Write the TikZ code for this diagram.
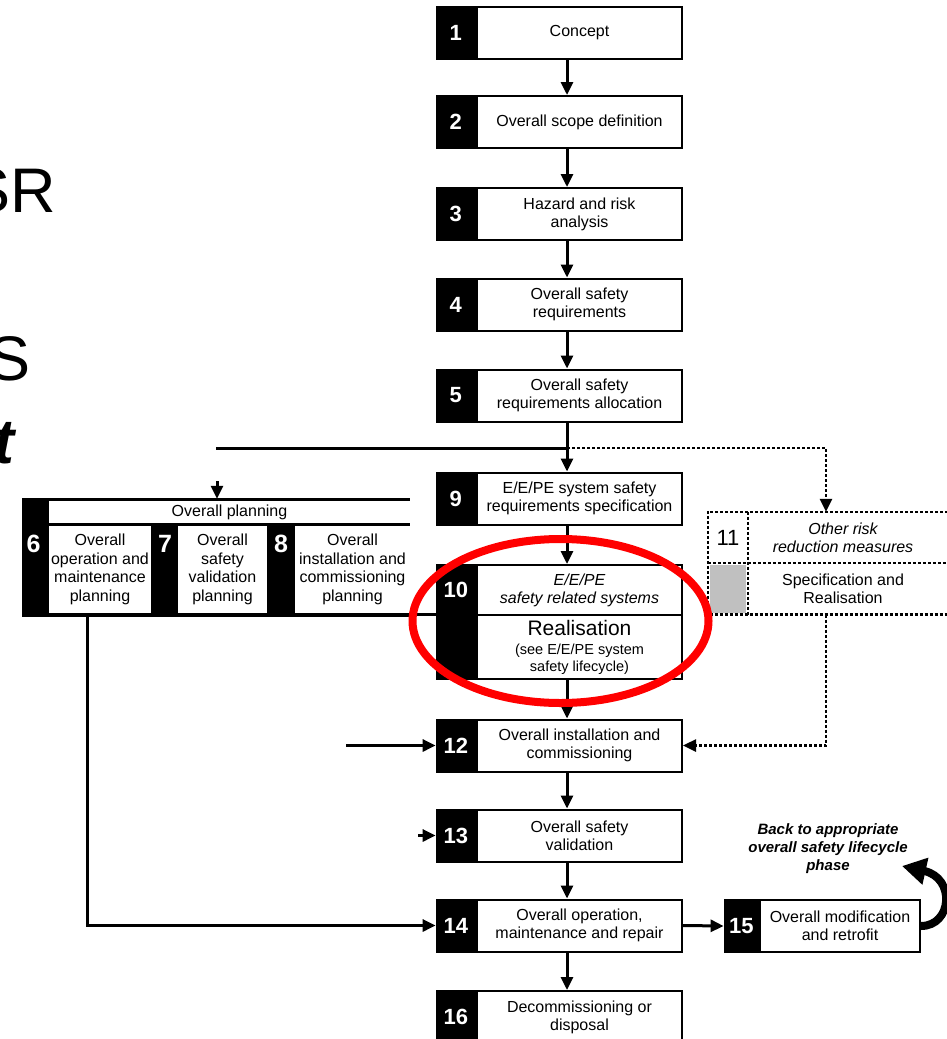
\documentclass[tikz,border=0pt]{standalone}
\usepackage{fontspec}
\setmainfont{Liberation Sans}
\usetikzlibrary{arrows.meta,positioning}
\definecolor{ringred}{RGB}{255,0,0}
\definecolor{shade}{RGB}{192,192,192}

\begin{document}
\begin{tikzpicture}[x=1pt, y=-1pt,
    stepbox/.style={draw, line width=2pt, fill=white, minimum width=205pt, minimum height=52pt, inner sep=1pt, align=center, font=\fontsize{16}{18}\selectfont},
    numbox/.style={fill=black, text=white, minimum width=40pt, minimum height=54pt, inner sep=0pt, font=\fontsize{22}{22}\selectfont\bfseries},
    planbox/.style={fill=white, inner sep=0pt, align=center, font=\fontsize{16}{18.7}\selectfont},
    plannum/.style={text=white, inner sep=0pt, font=\fontsize{25}{25}\selectfont\bfseries},
    otherbox/.style={inner sep=0pt, align=center, minimum width=190pt, minimum height=51pt, font=\fontsize{16}{18}\selectfont},
    flow/.style={line width=3pt, -{Triangle[length=13pt,width=12pt]}},
    dotline/.style={line width=2.5pt, dash pattern=on 3pt off 2pt},
    dotflow/.style={dotline, -{Triangle[length=13pt,width=12pt]}},
    slide/.style={inner sep=0pt, font=\fontsize{63}{63}\selectfont}]
  \useasboundingbox (0,0) rectangle (947,1039);

  % slide text cut off at the left edge
  \node[slide, anchor=base east] (srtxt) at (56,212) {SR};
  \node[slide, anchor=base east] (stxt) at (31,380) {S};
  \node[slide, anchor=base east, font=\fontsize{63}{63}\selectfont\bfseries\itshape] (ttxt) at (15,463) {t};

  % main column
  \coordinate (spine) at (567,0);
  \node[stepbox] (s1) at (579.5,33) {Concept};
  \node[numbox, left=0pt of s1] (n1) {1};
  \node[stepbox] (s2) at (579.5,122) {Overall scope definition};
  \node[numbox, left=0pt of s2] (n2) {2};
  \node[stepbox] (s3) at (579.5,214) {Hazard and risk\\analysis};
  \node[numbox, left=0pt of s3] (n3) {3};
  \node[stepbox] (s4) at (579.5,304.5) {Overall safety\\requirements};
  \node[numbox, left=0pt of s4] (n4) {4};
  \node[stepbox] (s5) at (579.5,395.5) {Overall safety\\requirements allocation};
  \node[numbox, left=0pt of s5] (n5) {5};
  \node[stepbox] (s9) at (579.5,498.5) {E/E/PE system safety\\requirements specification};
  \node[numbox, left=0pt of s9] (n9) {9};
  \node[stepbox, minimum height=50pt, font=\fontsize{16}{18}\selectfont\itshape] (s10) at (579.5,590) {E/E/PE\\safety related systems};
  \node[numbox, minimum height=52pt, left=0pt of s10] (n10) {10};
  \node[stepbox, minimum height=64pt, font=\fontsize{14.5}{17}\selectfont] (s10r) at (579.5,647) {{\fontsize{21}{21}\selectfont Realisation}\\[2pt](see E/E/PE system\\safety lifecycle)};
  \node[numbox, minimum height=66pt, left=0pt of s10r] (n10r) {};
  \node[stepbox] (s12) at (579.5,745.5) {Overall installation and\\commissioning};
  \node[numbox, left=0pt of s12] (n12) {12};
  \node[stepbox] (s13) at (579.5,835.5) {Overall safety\\validation};
  \node[numbox, left=0pt of s13] (n13) {13};
  \node[stepbox] (s14) at (579.5,925.5) {Overall operation,\\maintenance and repair};
  \node[numbox, left=0pt of s14] (n14) {14};
  \node[stepbox] (s16) at (579.5,1017) {Decommissioning or\\disposal};
  \node[numbox, left=0pt of s16] (n16) {16};
  \node[stepbox, minimum width=160pt] (s15) at (840,926) {Overall modification\\and retrofit};
  \node[numbox, minimum width=35pt, left=0pt of s15] (n15) {15};

  % overall planning
  \fill (22,498) rectangle (410,617);
  \node[planbox, minimum width=361pt, minimum height=22pt] (plan) at (229.5,512) {Overall planning};
  \node[planbox, minimum width=102pt, minimum height=87pt] (p6) at (100,569.5) {Overall\\operation and\\maintenance\\planning};
  \node[planbox, minimum width=89pt, minimum height=87pt] (p7) at (222.5,569.5) {Overall\\safety\\validation\\planning};
  \node[planbox, minimum width=115pt, minimum height=87pt] (p8) at (352.5,569.5) {Overall\\installation and\\commissioning\\planning};
  \node[plannum] (k6) at (33.5,544) {6};
  \node[plannum] (k7) at (165,544) {7};
  \node[plannum] (k8) at (281,544) {8};
  \draw[line width=3pt] ([yshift=-1pt]p8.south east) -- ([yshift=-1pt]p8.south east -| n10.west);

  % other risk reduction
  \node[otherbox, font=\fontsize{16}{18}\selectfont\itshape] (s11) at (843,537.5) {Other risk\\reduction measures};
  \node[otherbox] (s11b) at (843,589) {Specification and\\Realisation};
  \node[inner sep=0pt, minimum width=40pt, minimum height=51pt, font=\fontsize{22}{22}\selectfont] (n11) at (728,537.5) {11};
  \node[fill=shade, inner sep=0pt, minimum width=36pt, minimum height=48pt] (g11) at (728,589) {};
  \draw[dotline] ([xshift=10pt]s11.north east) -- (n11.north west) -- (n11.west |- s11b.south) -- ([xshift=10pt]s11b.south east);
  \draw[dotline] (s11.north west) -- (s11b.south west);
  \draw[dotline] (n11.south west) -- ([xshift=10pt]s11.south east);

  % connectors
  \coordinate (junc) at (567,448);
  \coordinate (feedl) at (216,448);
  \coordinate (drop) at (826,448);
  \coordinate (in6) at (217,481);
  \coordinate (oprun) at (87,0);
  \coordinate (in12) at (346,745.5);
  \coordinate (in13) at (418,835.5);
  \draw[flow] (s1.south -| spine) -- (s2.north -| spine);
  \draw[flow] (s2.south -| spine) -- (s3.north -| spine);
  \draw[flow] (s3.south -| spine) -- (s4.north -| spine);
  \draw[flow] (s4.south -| spine) -- (s5.north -| spine);
  \draw[flow] (s5.south -| spine) -- (s9.north -| spine);
  \draw[line width=3pt] (feedl) -- (junc);
  \draw[flow] (in6) -- ([yshift=2pt]in6 |- plan.north);
  \draw[dotflow] (junc) -| (s11.north -| drop);
  \draw[flow] (s9.south -| spine) -- (s10.north -| spine);
  \draw[flow] (s10r.south -| spine) -- (s12.north -| spine);
  \draw[dotflow] (s11b.south -| drop) |- (s12.east);
  \draw[flow] (in12) -- (n12.west);
  \draw[flow] (s12.south -| spine) -- (s13.north -| spine);
  \draw[flow] (in13) -- (n13.west);
  \draw[flow] (s13.south -| spine) -- (s14.north -| spine);
  \draw[flow] (p6.south -| oprun) |- (n14.west);
  \draw[flow] (s14.south -| spine) -- (s16.north -| spine);
  \draw[flow] (s14.east) -- (n15.west);

  % back to lifecycle
  \node[align=center, inner sep=0pt, font=\fontsize{15}{18}\selectfont\bfseries\itshape] (back) at (828,849) {Back to appropriate\\overall safety lifecycle\\phase};
  \draw[line width=8pt, -{Triangle[length=24pt,width=26pt]}] (s15.east) .. controls (952,926) and (956,878) .. (902,866);

  % highlight
  \draw[ringred, line width=8pt] (560.5,621) ellipse [x radius=148, y radius=82];
\end{tikzpicture}
\end{document}
